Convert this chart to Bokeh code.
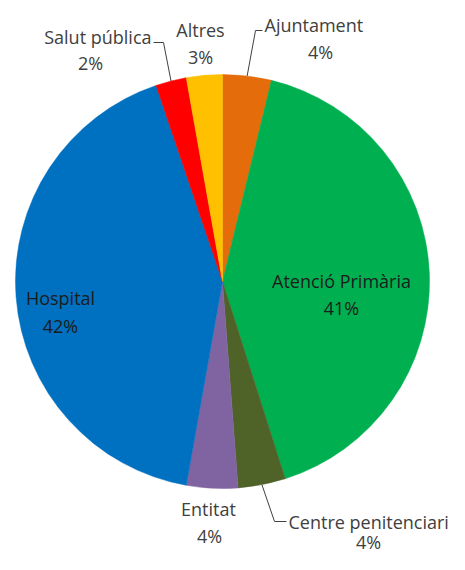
import math
from bokeh.plotting import figure
from bokeh.models import Range1d, ColumnDataSource
from bokeh.core.properties import value
from bokeh.embed import file_html
from bokeh.resources import INLINE

# ---- data (clockwise from 12 o'clock) ----
categories = ["Ajuntament", "Atenció Primària", "Centre penitenciari", "Entitat",
              "Hospital", "Salut pública", "Altres"]
shares = [3.8, 41.3, 3.7, 4.0, 42.0, 2.4, 2.8]
colors = ["#E46C0A", "#00B050", "#4F6228", "#8064A2", "#0070C0", "#FF0000", "#FFC000"]

# ---- layout (pixel coords, y measured from top) ----
W, H = 449, 554
CX, CY_PX, R = 222, 281, 207
FONT = "Open Sans"
FS = "18px"

def Y(py):
    return H - py

# label layout: name position, pct position, alignment, colour, leader elbow points
label_layout = {
    "Ajuntament": dict(name=(264, 24), pct=(320, 51), align="left", color="#404040",
                       leader=[(255, 30), (262, 30)]),
    "Atenció Primària": dict(name=(341, 280), pct=(341, 307), align="center", color="#1c1c1c"),
    "Centre penitenciari": dict(name=(288, 521), pct=(368, 541), align="left", color="#404040",
                                leader=[(274, 521), (286, 521)]),
    "Entitat": dict(name=(208, 508), pct=(209, 535), align="center", color="#404040"),
    "Hospital": dict(name=(60, 297), pct=(60, 325), align="center", color="#1c1c1c"),
    "Salut pública": dict(name=(151, 36), pct=(90, 62), align="right", color="#404040",
                          leader=[(163, 42), (153, 42)]),
    "Altres": dict(name=(200, 29), pct=(200, 56), align="center", color="#404040"),
}

total = sum(shares)
fracs = [s / total for s in shares]
pct_text = [f"{round(f * 100)}%" for f in fracs]

starts, ends, mids = [], [], []
cum = 0.0
for f in fracs:
    a0 = math.pi / 2 - 2 * math.pi * cum
    a1 = math.pi / 2 - 2 * math.pi * (cum + f)
    starts.append(a0)
    ends.append(a1)
    mids.append((a0 + a1) / 2)
    cum += f

src = ColumnDataSource(dict(cat=categories, start=starts, end=ends, color=colors))

p = figure(width=W, height=H, x_range=Range1d(0, W), y_range=Range1d(0, H),
           output_backend="svg", toolbar_location=None, min_border=0)
p.axis.visible = False
p.grid.visible = False
p.outline_line_color = None
p.background_fill_color = "white"
p.border_fill_color = "white"

p.wedge(x=CX, y=Y(CY_PX), radius=R, start_angle="start", end_angle="end", direction="clock",
        fill_color="color", line_color="color", line_width=0.5, source=src)

for i, cat in enumerate(categories):
    lay = label_layout[cat]
    if "leader" in lay:
        ax = CX + R * math.cos(mids[i])
        ay = Y(CY_PX) + R * math.sin(mids[i])
        xs = [ax] + [pt[0] for pt in lay["leader"]]
        ys = [ay] + [Y(pt[1]) for pt in lay["leader"]]
        p.line(xs, ys, line_color="#404040", line_width=1)
    nx, ny = lay["name"]
    p.text(x=[nx], y=[Y(ny)], text=[cat], text_font=value(FONT), text_font_size=FS,
           text_align=lay["align"], text_baseline="middle", text_color=lay["color"])
    px, py = lay["pct"]
    p.text(x=[px], y=[Y(py)], text=[pct_text[i]], text_font=value(FONT), text_font_size=FS,
           text_align="center", text_baseline="middle", text_color=lay["color"])

open("out.html", "w").write(file_html(p, INLINE))
